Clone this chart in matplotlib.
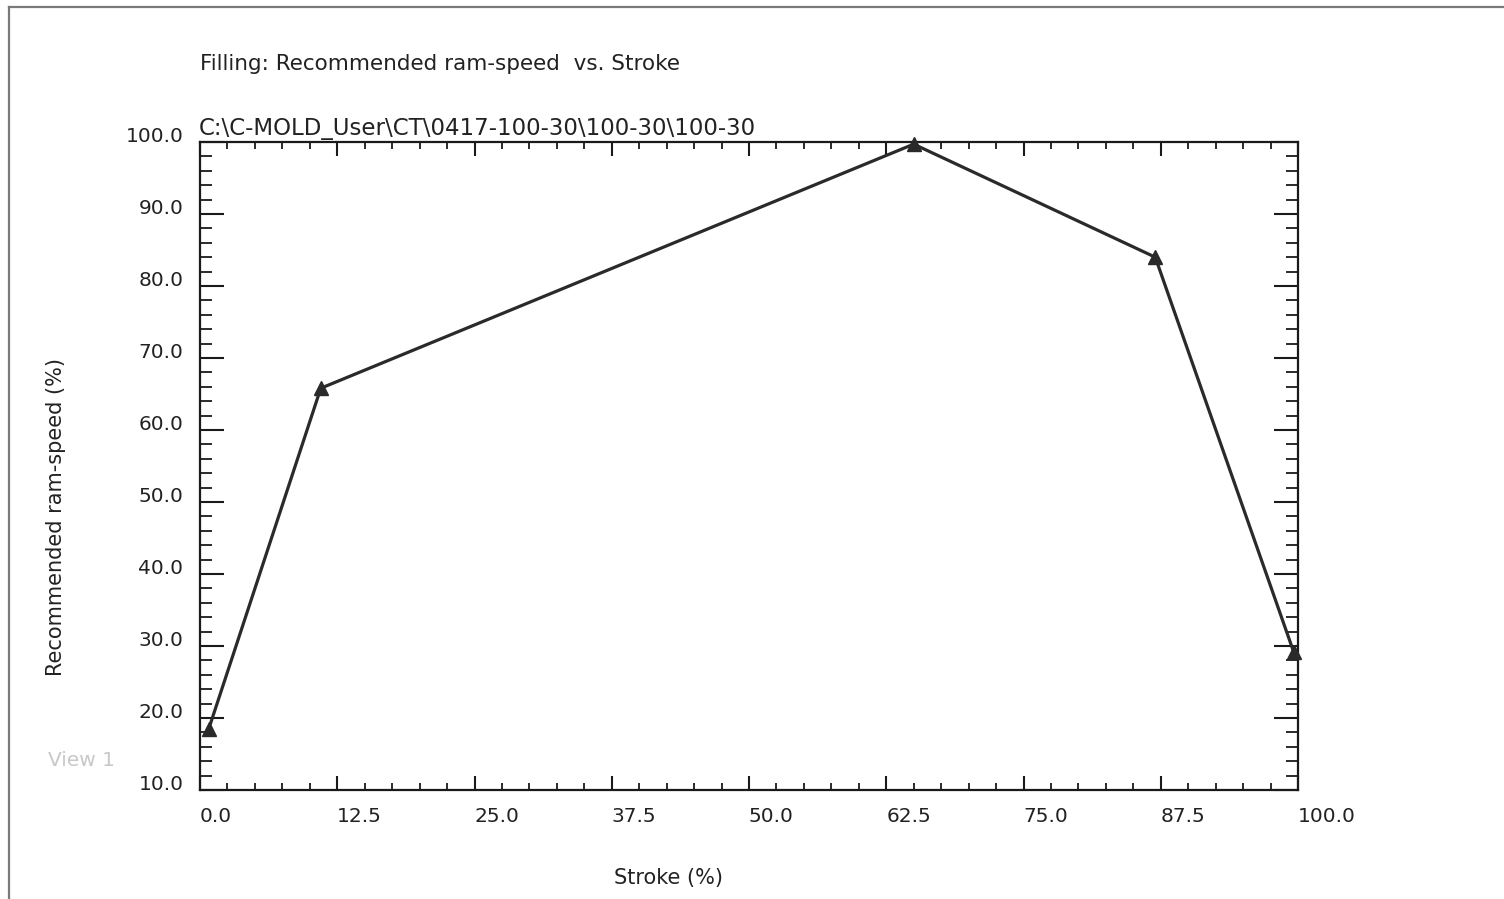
import numpy as np
import matplotlib
matplotlib.use("Agg")
import matplotlib.pyplot as plt
from matplotlib.ticker import MultipleLocator, FormatStrFormatter
from matplotlib.lines import Line2D

plt.rcParams['font.family'] = ['DejaVu Sans']

# data
stroke = [0.8, 11.0, 65.0, 87.0, 99.6]
ram_speed = [18.5, 65.8, 99.7, 84.0, 29.2]

title = "Filling: Recommended ram-speed  vs. Stroke"
path_text = "C:\\C-MOLD_User\\CT\\0417-100-30\\100-30\\100-30"
x_label = "Stroke (%)"
y_label = "Recommended ram-speed (%)"

W, H = 1504, 899
fig = plt.figure(figsize=(W / 100, H / 100), dpi=100)
fig.patch.set_facecolor('white')

# window frame (only left and top edges visible)
fig.add_artist(Line2D([9 / W, 9 / W], [0, 1 - 7 / H], transform=fig.transFigure,
                      color='#7a7a7a', lw=1.6))
fig.add_artist(Line2D([9 / W, 1], [1 - 7 / H, 1 - 7 / H], transform=fig.transFigure,
                      color='#7a7a7a', lw=1.6))

ax = fig.add_axes([200 / W, 109 / H, 1098 / W, 648 / H])
ax.plot(stroke, ram_speed, color='#2a2a2a', lw=2.3, marker='^', ms=10,
        markeredgecolor='#2a2a2a', clip_on=False, zorder=3)

ax.set_xlim(0, 100)
ax.set_ylim(10, 100)
ax.xaxis.set_major_locator(MultipleLocator(12.5))
ax.xaxis.set_minor_locator(MultipleLocator(2.5))
ax.yaxis.set_major_locator(MultipleLocator(10))
ax.yaxis.set_minor_locator(MultipleLocator(2))
ax.xaxis.set_major_formatter(FormatStrFormatter('%.1f'))
ax.yaxis.set_major_formatter(FormatStrFormatter('%.1f'))

for sp in ax.spines.values():
    sp.set_linewidth(1.6)
    sp.set_color('#1a1a1a')

ax.tick_params(axis='both', which='both', direction='in', color='#1a1a1a',
               top=True, right=True, labelsize=14.5, labelcolor='#222222')
ax.tick_params(axis='x', which='major', length=10, width=1.5, pad=12)
ax.tick_params(axis='x', which='minor', length=5, width=1.3)
ax.tick_params(axis='y', which='major', length=17, width=1.5, pad=12)
ax.tick_params(axis='y', which='minor', length=8.5, width=1.3)

fig.canvas.draw()
for lab in ax.get_xticklabels():
    lab.set_ha('left')
for lab in ax.get_yticklabels():
    lab.set_va('baseline')

fig.text(200 / W, 1 - 64 / H, title, ha='left', va='center', fontsize=15.5, color='#222222')
fig.text(199 / W, 1 - 128 / H, path_text, ha='left', va='center', fontsize=16.5, color='#222222')
fig.text(669 / W, 1 - 878 / H, x_label, ha='center', va='center', fontsize=15, color='#222222')
fig.text(56 / W, 1 - 517 / H, y_label, ha='center', va='center', rotation=90,
         fontsize=15, color='#222222')
fig.text(48 / W, 1 - 760 / H, "View 1", ha='left', va='center', fontsize=14.5, color='#c8c8c8')

fig.savefig("out.png", dpi=100, facecolor='white')
